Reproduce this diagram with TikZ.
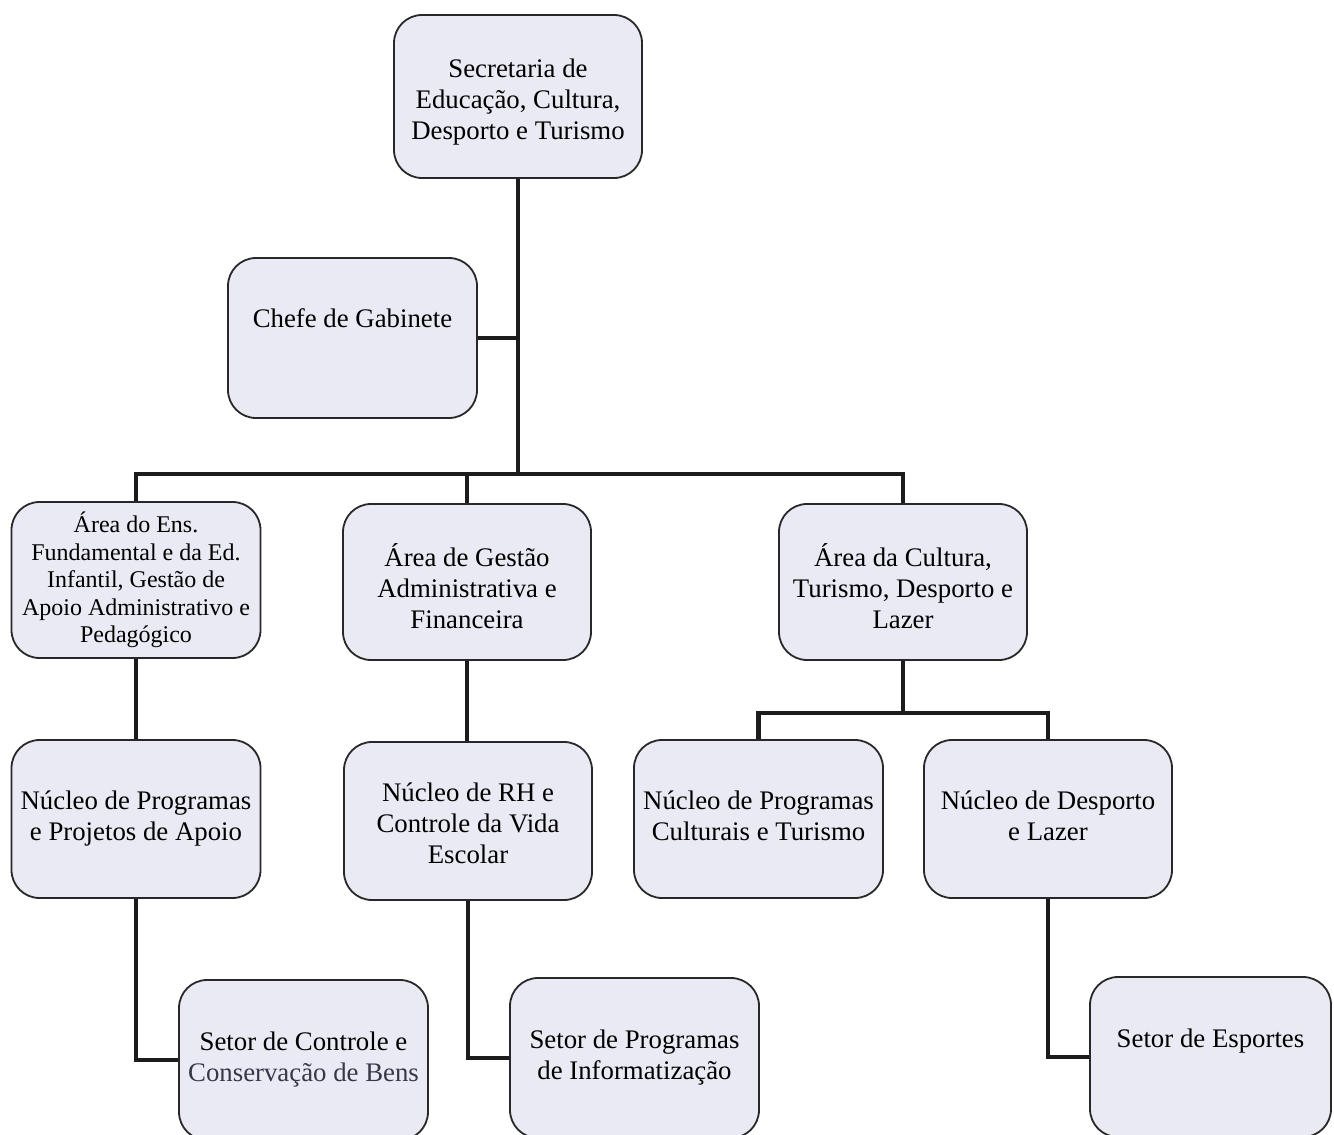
\documentclass[tikz,border=0pt]{standalone}
\usepackage{fontspec}
\setmainfont{Liberation Serif}
\usetikzlibrary{backgrounds}
\definecolor{boxfill}{RGB}{234,234,244}
\definecolor{boxline}{RGB}{40,40,40}
\definecolor{conn}{RGB}{28,28,28}
\definecolor{grayink}{RGB}{55,55,72}
\newcommand\padtop[1]{\rule{0pt}{#1}}
\newcommand\padbot[1]{\rule[-#1]{0pt}{#1}}
\tikzset{
  orgbox/.style={draw=boxline, line width=1.8pt, fill=boxfill, rounded corners=28pt,
    align=center, inner sep=2pt, font=\fontsize{26.8}{31}\selectfont,
    minimum width=248pt, minimum height=158pt},
  smallbox/.style={orgbox, font=\fontsize{24}{27.5}\selectfont},
  link/.style={draw=conn, line width=4.8pt, line cap=rect},
}
\begin{document}
\begin{tikzpicture}[x=1pt,y=-1pt]
\useasboundingbox (0,0) rectangle (1334,1135);
\clip (0,0) rectangle (1334,1135);

% top
\node[orgbox, minimum height=163pt] (sec) at (518,96.5)
  {\padtop{30pt}Secretaria de\\Educação, Cultura,\\Desporto e Turismo};
\node[orgbox, minimum width=249pt, minimum height=160pt, align=left,
      text height=0pt, text depth=21pt] (chefe) at (352.5,338) {Chefe de Gabinete};

% level 2
\node[smallbox, minimum width=249pt, minimum height=156pt] (area1) at (136,580)
  {Área do Ens.\\Fundamental e da Ed.\\Infantil, Gestão de\\Apoio Administrativo e\\Pedagógico};
\node[orgbox, minimum height=156pt] (area2) at (467,582)
  {\padtop{31pt}Área de Gestão\\Administrativa e\\Financeira};
\node[orgbox, minimum height=156pt] (area3) at (903,582)
  {\padtop{31pt}Área da Cultura,\\Turismo, Desporto e\\Lazer};

% level 3
\node[orgbox, minimum width=249pt] (nuc1) at (136,819)
  {Núcleo de Programas\\e Projetos de Apoio};
\node[orgbox] (nuc2) at (468,821)
  {\padtop{23pt}Núcleo de RH e\\Controle da Vida\\Escolar};
\node[orgbox, minimum width=249pt] (nuc3) at (758.5,819)
  {Núcleo de Programas\\Culturais e Turismo\padbot{6pt}};
\node[orgbox] (nuc4) at (1048,819)
  {Núcleo de Desporto\\e Lazer\padbot{6pt}};

% level 4
\node[orgbox, minimum width=249pt, minimum height=160pt] (set1) at (303.5,1060)
  {Setor de Controle e\\\textcolor{grayink}{Conservação de Bens}};
\node[orgbox, minimum width=249pt, minimum height=160pt] (set2) at (634.5,1058)
  {Setor de Programas\\de Informatização};
\node[orgbox, minimum width=241pt, minimum height=160pt, align=left,
      text height=0pt, text depth=19pt] (set3) at (1210.5,1057) {Setor de Esportes};

% connectors
\coordinate (bus) at (518,474);
\coordinate (cbus) at (903,713);
\begin{scope}[on background layer]
  \draw[link] (sec.south) -- (bus);
  \draw[link] (chefe.east) -- (chefe.east -| bus);
  \draw[link] (area1.north) |- (bus) -| (area3.north);
  \draw[link] (area2.north) -- (area2.north |- bus);
  \draw[link] (area3.south) -- (cbus);
  \draw[link] (nuc3.north) |- (cbus) -| (nuc4.north);
  \draw[link] (area1.south) -- (nuc1.north);
  \draw[link] (area2.south) -- (area2.south |- nuc2.north);
  \draw[link] (nuc1.south) |- (set1.west);
  \draw[link] (nuc2.south) |- (set2.west);
  \draw[link] (nuc4.south) |- (set3.west);
\end{scope}
\end{tikzpicture}
\end{document}
